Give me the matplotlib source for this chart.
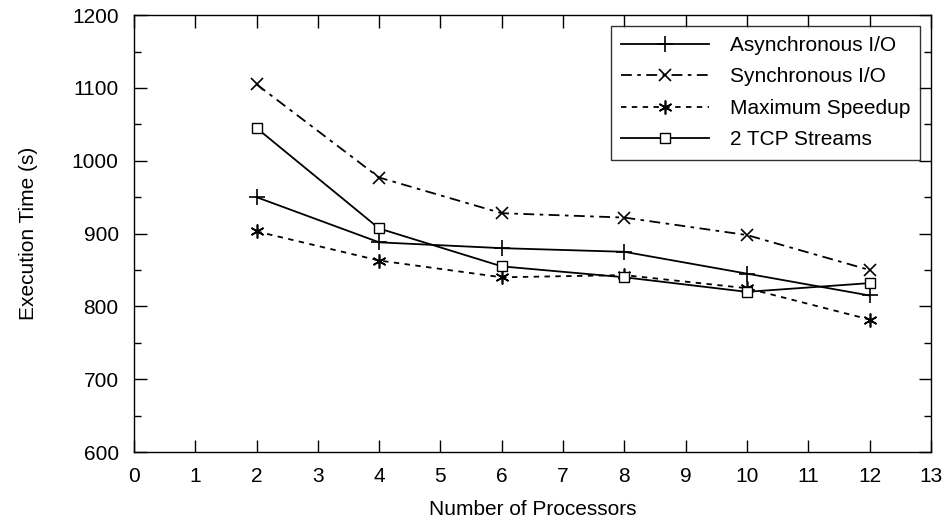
import numpy as np
import matplotlib.pyplot as plt

plt.rcParams['font.family'] = ['Liberation Sans', 'DejaVu Sans']

procs = [2, 4, 6, 8, 10, 12]
async_io = [950, 888, 880, 875, 845, 815]
sync_io = [1105, 977, 928, 922, 898, 850]
max_speedup = [903, 863, 840, 843, 825, 782]
tcp_streams = [1045, 907, 855, 840, 820, 832]

fig = plt.figure(figsize=(9.46, 5.22), dpi=100)
ax = fig.add_axes([0.1416, 0.134, 0.8424, 0.837])

ax.plot(procs, async_io, color='black', lw=1.3, ls='-', marker='+', ms=11, mew=1.2,
        label='Asynchronous I/O')
ax.plot(procs, sync_io, color='black', lw=1.3, ls=(0, (6, 3, 2, 3)), marker='x', ms=8, mew=1.2,
        label='Synchronous I/O')
ax.plot(procs, max_speedup, color='black', lw=1.3, ls=(0, (3, 3)), marker=(6, 2, 0), ms=10, mew=1.2,
        label='Maximum Speedup')
ax.plot(procs, tcp_streams, color='black', lw=1.3, ls='-', marker='s', ms=7, mew=1.0,
        mfc='white', label='2 TCP Streams')

ax.set_xlim(0, 13)
ax.set_ylim(600, 1200)
ax.set_xticks(np.arange(0, 14, 1))
ax.set_yticks(np.arange(600, 1201, 100))
ax.set_yticks(np.arange(650, 1200, 100), minor=True)
ax.tick_params(which='both', direction='in', top=True, right=True, labelsize=15, width=1.0)
ax.tick_params(which='major', length=9, pad=11)
ax.tick_params(which='minor', length=5)
for sp in ax.spines.values():
    sp.set_linewidth(1.0)

ax.set_xlabel('Number of Processors', fontsize=15, labelpad=10)
ax.set_ylabel('Execution Time (s)', fontsize=15, labelpad=24)

leg = ax.legend(loc='upper right', fontsize=15, frameon=True, fancybox=False,
                edgecolor='black', handlelength=4.2, handletextpad=1.0,
                borderaxespad=0.5, labelspacing=0.6, borderpad=0.5)
leg.get_frame().set_linewidth(1.0)

fig.savefig('out.png', dpi=100)
